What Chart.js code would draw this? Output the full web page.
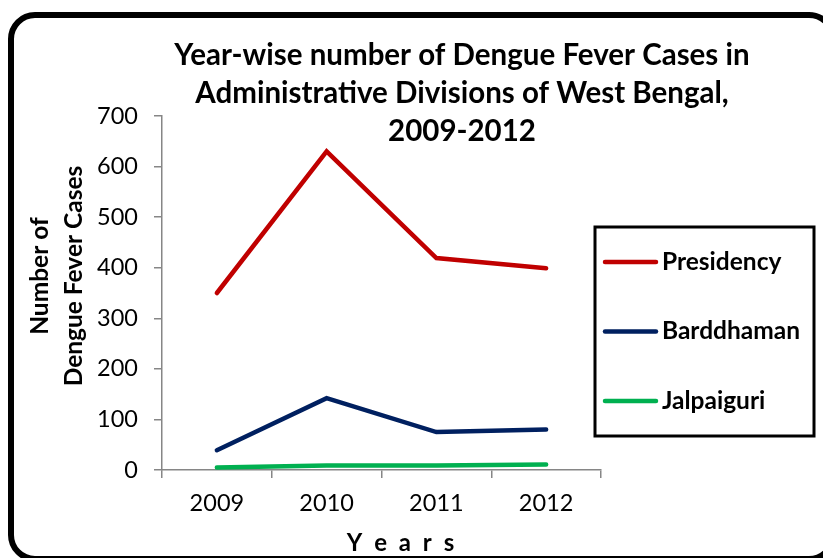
<!DOCTYPE html>
<html>
<head>
<meta charset="utf-8">
<script src="https://cdn.jsdelivr.net/npm/chart.js@4/dist/chart.umd.min.js"></script>
<style>
  html, body { margin: 0; padding: 0; background: #fff; overflow: hidden; }
  #wrap { position: relative; width: 823px; height: 558px; overflow: hidden; }
  #frame {
    position: absolute; left: 8px; top: 12px; width: 816px; height: 538px;
    border: 6px solid #000; border-radius: 27px; box-sizing: content-box;
  }
  canvas { position: absolute; left: 0; top: 0; }
</style>
</head>
<body>
<div id="wrap">
  <div id="frame"></div>
  <canvas id="c" width="823" height="558"></canvas>
</div>
<script>
// Dengue fever cases by administrative division, West Bengal
const years = ['2009', '2010', '2011', '2012'];
const presidency = [350, 630, 419, 399];
const barddhaman = [39, 142, 75, 80];
const jalpaiguri = [5, 9, 9, 11];
const seriesNames = ['Presidency', 'Barddhaman', 'Jalpaiguri'];
const titleLines = ['Year-wise number of Dengue Fever Cases in', 'Administrative Divisions of West Bengal,', '2009-2012'];
const yTitleLines = ['Number of', 'Dengue Fever Cases'];
const xTitle = 'Y e a r s';

const FONT = 'Lato';
const colors = ['#C00000', '#002060', '#00B050'];

// Chart heading, axis titles and the boxed legend
const decorations = {
  id: 'decorations',
  afterDraw(chart) {
    const ctx = chart.ctx;
    ctx.save();
    ctx.fillStyle = '#000';
    ctx.textAlign = 'center';
    ctx.textBaseline = 'middle';

    ctx.font = `bold 29.5px ${FONT}`;
    titleLines.forEach((t, i) => ctx.fillText(t, 462, 55 + i * 38));

    ctx.save();
    ctx.font = `bold 24.5px ${FONT}`;
    ctx.translate(57, 276);
    ctx.rotate(-Math.PI / 2);
    yTitleLines.forEach((t, i) => ctx.fillText(t, 0, -17 + i * 34));
    ctx.restore();

    ctx.save();
    ctx.font = `bold 24px ${FONT}`;
    ctx.letterSpacing = '3px';
    ctx.fillText(xTitle, 402, 543);
    ctx.restore();

    // legend box
    const box = { x: 595, y: 227, w: 219, h: 209 };
    ctx.lineWidth = 3;
    ctx.strokeStyle = '#000';
    ctx.strokeRect(box.x, box.y, box.w, box.h);
    ctx.textAlign = 'left';
    ctx.font = `bold 24.5px ${FONT}`;
    chart.data.datasets.forEach((ds, i) => {
      const y = 262 + i * 69.5;
      ctx.strokeStyle = ds.borderColor;
      ctx.lineWidth = 4.5;
      ctx.lineCap = 'round';
      ctx.beginPath();
      ctx.moveTo(605, y);
      ctx.lineTo(656, y);
      ctx.stroke();
      ctx.fillText(ds.label, 662, y);
    });
    ctx.restore();
  }
};

const mkSet = (label, data, color) => ({
  label, data,
  borderColor: color, backgroundColor: color,
  borderWidth: 4.5, pointRadius: 0, tension: 0,
  borderCapStyle: 'round', borderJoinStyle: 'miter', fill: false
});

new Chart(document.getElementById('c'), {
  type: 'line',
  data: {
    labels: years,
    datasets: [
      mkSet(seriesNames[0], presidency, colors[0]),
      mkSet(seriesNames[1], barddhaman, colors[1]),
      mkSet(seriesNames[2], jalpaiguri, colors[2])
    ]
  },
  options: {
    responsive: false,
    devicePixelRatio: 1,
    animation: false,
    layout: { padding: { left: 0, top: 116, right: 222, bottom: 0 } },
    plugins: { legend: { display: false }, title: { display: false }, tooltip: { enabled: false } },
    scales: {
      x: {
        offset: true,
        grid: { offset: true, drawOnChartArea: false, tickLength: 8, color: '#868686', lineWidth: 1.5 },
        border: { color: '#868686', width: 1.5 },
        ticks: { color: '#000', font: { family: FONT, size: 23.5 }, padding: 11, maxRotation: 0 },
        afterFit(s) { s.height = 88; }
      },
      y: {
        min: 0, max: 700,
        grid: { drawOnChartArea: false, tickLength: 8, color: '#868686', lineWidth: 1.5 },
        border: { color: '#868686', width: 1.5 },
        ticks: { stepSize: 100, color: '#000', font: { family: FONT, size: 23.5 }, padding: 16 },
        afterFit(s) { s.width = 162; }
      }
    }
  },
  plugins: [decorations]
});
</script>
</body>
</html>
